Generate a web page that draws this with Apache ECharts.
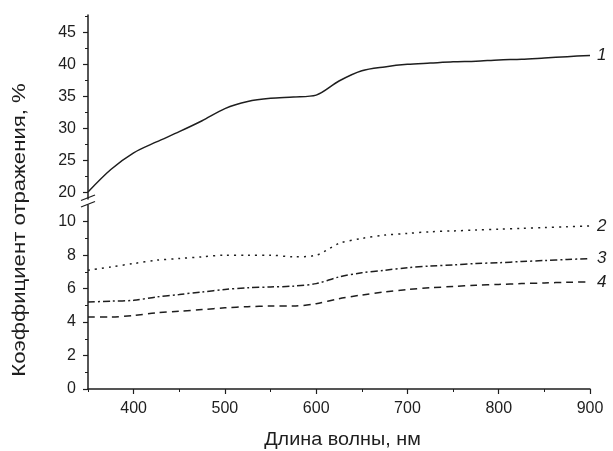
<!DOCTYPE html>
<html>
<head>
<meta charset="utf-8">
<script src="https://cdn.jsdelivr.net/npm/echarts@6/dist/echarts.min.js"></script>
<style>
  html, body { margin: 0; padding: 0; background: #ffffff; }
  #chart { width: 613px; height: 451px; }
</style>
</head>
<body>
<div id="chart"></div>
<script>
// Reflectance spectra, wavelength in nm
var wavelengths = [350, 375, 400, 425, 450, 475, 500, 525, 550, 575, 600, 625,
                   650, 675, 700, 725, 750, 775, 800, 825, 850, 875, 900];

var curve1 = [20.1, 23.6, 26.2, 27.9, 29.5, 31.2, 33.1, 34.2, 34.7, 34.9, 35.2, 37.4,
              39.0, 39.6, 40.0, 40.2, 40.4, 40.5, 40.7, 40.8, 41.0, 41.2, 41.4];
var curve2 = [7.1, 7.3, 7.5, 7.7, 7.8, 7.9, 8.0, 8.0, 8.0, 7.9, 8.0, 8.7,
              9.0, 9.2, 9.3, 9.4, 9.45, 9.5, 9.55, 9.6, 9.65, 9.7, 9.75];
var curve3 = [5.2, 5.25, 5.3, 5.5, 5.65, 5.8, 5.95, 6.05, 6.1, 6.15, 6.3, 6.7,
              6.95, 7.1, 7.25, 7.35, 7.42, 7.5, 7.55, 7.62, 7.68, 7.74, 7.8];
var curve4 = [4.3, 4.3, 4.4, 4.55, 4.65, 4.75, 4.85, 4.92, 4.96, 4.96, 5.1, 5.4,
              5.62, 5.8, 5.95, 6.05, 6.13, 6.2, 6.25, 6.3, 6.34, 6.38, 6.4];

var curveNames = ['1', '2', '3', '4'];

var xMajorTicks = [400, 500, 600, 700, 800, 900];
var xMinorTicks = [350, 450, 550, 650, 750, 850];
var yUpperMajor = [20, 25, 30, 35, 40, 45];
var yUpperMinor = [22.5, 27.5, 32.5, 37.5, 42.5, 47.5];
var yLowerMajor = [0, 2, 4, 6, 8, 10];
var yLowerMinor = [1, 3, 5, 7, 9];

var xTitle = 'Длина волны, нм';
var yTitle = 'Коэффициент отражения, %';

var ink = '#1e1e1e';
var font = 'Liberation Sans, Arial, sans-serif';

function pairs(ys) {
  return wavelengths.map(function (w, i) { return [w, ys[i]]; });
}

function majorY(gridIndex, min, max, ticks) {
  return {
    type: 'value', gridIndex: gridIndex, position: 'left', min: min, max: max,
    axisLine: { show: true, lineStyle: { color: ink, width: 1.5 } },
    axisTick: { show: true, inside: false, length: 5, customValues: ticks,
                lineStyle: { color: ink, width: 1.2 } },
    axisLabel: { show: true, customValues: ticks, margin: 12, color: ink,
                 fontSize: 16, fontFamily: font },
    splitLine: { show: false }
  };
}
function minorY(gridIndex, min, max, ticks) {
  return {
    type: 'value', gridIndex: gridIndex, position: 'left', offset: 0, min: min, max: max,
    axisLine: { show: false },
    axisTick: { show: true, length: 3, customValues: ticks,
                lineStyle: { color: ink, width: 1 } },
    axisLabel: { show: false },
    splitLine: { show: false }
  };
}

function lineSeries(name, data, xIdx, yIdx, dash) {
  return {
    type: 'line', name: name, data: pairs(data),
    xAxisIndex: xIdx, yAxisIndex: yIdx,
    smooth: 0.3, showSymbol: false, symbol: 'none',
    lineStyle: { color: ink, width: 1.5, type: dash },
    endLabel: { show: true, formatter: name, distance: 7, color: ink,
                fontSize: 17, fontStyle: 'italic', fontFamily: font },
    animation: false
  };
}

var chart = echarts.init(document.getElementById('chart'), null, { renderer: 'canvas' });

chart.setOption({
  backgroundColor: '#ffffff',
  animation: false,
  grid: [
    { left: 88, right: 23, top: 15, bottom: 252 },
    { left: 88, right: 23, top: 205, bottom: 62 }
  ],
  xAxis: [
    { type: 'value', gridIndex: 0, min: 350, max: 900, show: false },
    { type: 'value', gridIndex: 1, min: 350, max: 900, position: 'bottom',
      axisLine: { show: true, onZero: false, lineStyle: { color: ink, width: 1.5 } },
      axisTick: { show: true, length: 5, customValues: xMajorTicks,
                  lineStyle: { color: ink, width: 1.2 } },
      axisLabel: { show: true, customValues: xMajorTicks, margin: 12, color: ink,
                   fontSize: 16, fontFamily: font },
      splitLine: { show: false } },
    { type: 'value', gridIndex: 1, min: 350, max: 900, position: 'bottom', offset: 0,
      axisLine: { show: false, onZero: false },
      axisTick: { show: true, length: 3, customValues: xMinorTicks,
                  lineStyle: { color: ink, width: 1 } },
      axisLabel: { show: false },
      splitLine: { show: false } }
  ],
  yAxis: [
    majorY(0, 19, 47.7, yUpperMajor),
    minorY(0, 19, 47.7, yUpperMinor),
    majorY(1, 0, 11, yLowerMajor),
    minorY(1, 0, 11, yLowerMinor)
  ],
  series: [
    lineSeries(curveNames[0], curve1, 0, 0, 'solid'),
    lineSeries(curveNames[1], curve2, 1, 2, [2, 5]),
    lineSeries(curveNames[2], curve3, 1, 2, [7, 3, 2, 3]),
    lineSeries(curveNames[3], curve4, 1, 2, [7, 5])
  ],
  graphic: [
    // axis break marks
    { type: 'line', shape: { x1: 81, y1: 200.5, x2: 95, y2: 195 },
      style: { stroke: ink, lineWidth: 1.3 } },
    { type: 'line', shape: { x1: 81, y1: 207, x2: 95, y2: 201.5 },
      style: { stroke: ink, lineWidth: 1.3 } },
    // axis titles, slightly widened along the text direction
    { type: 'text', x: 342.5, y: 440, scaleX: 1.1,
      style: { text: xTitle, fill: ink, fontSize: 18, fontFamily: font,
               textAlign: 'center', textVerticalAlign: 'middle' } },
    { type: 'text', x: 20.5, y: 230, rotation: Math.PI / 2, scaleX: 1.23,
      style: { text: yTitle, fill: ink, fontSize: 18, fontFamily: font,
               textAlign: 'center', textVerticalAlign: 'middle' } }
  ]
});
</script>
</body>
</html>
